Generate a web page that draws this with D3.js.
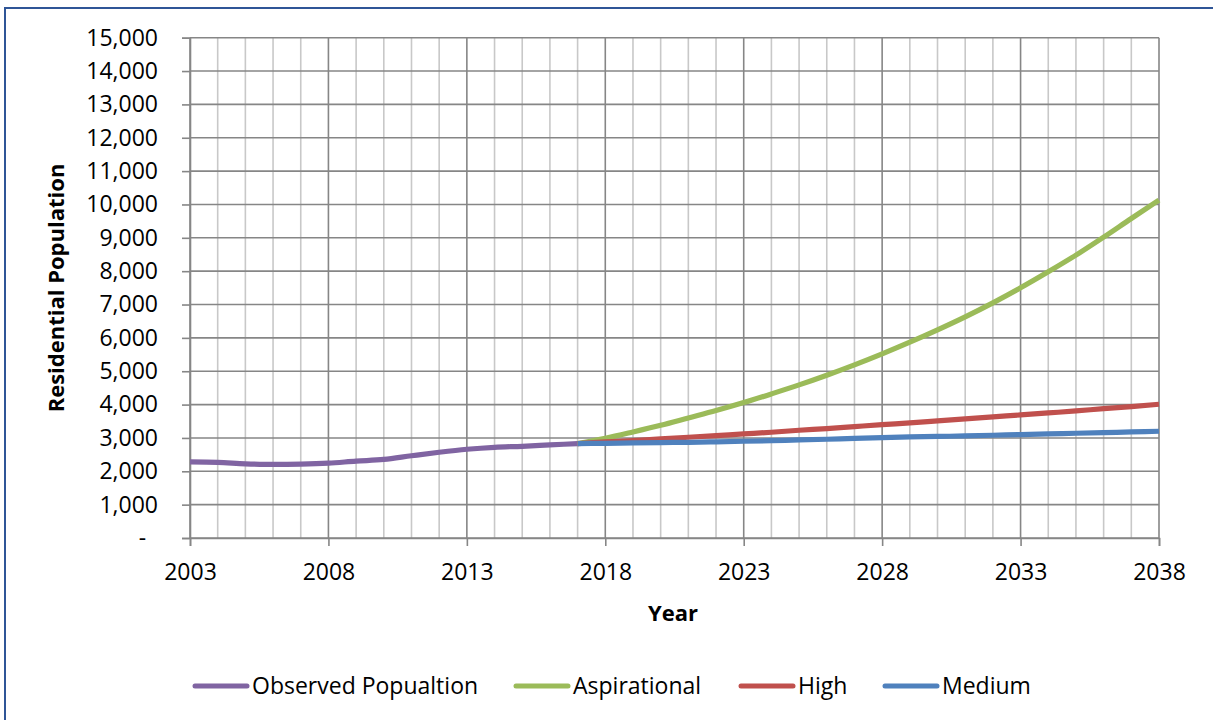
<!DOCTYPE html>
<html><head><meta charset="utf-8">
<script src="https://d3js.org/d3.v7.min.js"></script>
<style>body{margin:0;background:#fff;} svg{display:block;}</style>
</head><body>
<script>
// ---- data ----
const observedYears = [2003,2004,2005,2006,2007,2008,2009,2010,2011,2012,2013,2014,2015,2016,2017];
const observedValues = [2280,2265,2225,2205,2215,2245,2305,2355,2465,2570,2660,2720,2750,2790,2830];
const projYears = [2017,2018,2019,2020,2021,2022,2023,2024,2025,2026,2027,2028,2029,2030,2031,2032,2033,2034,2035,2036,2037,2038];
const aspirationalValues = [2830,2990,3180,3380,3600,3820,4060,4320,4590,4880,5190,5520,5870,6240,6630,7050,7500,7980,8480,9020,9580,10130];
const highValues = [2830,2880,2920,2970,3020,3070,3120,3170,3230,3280,3340,3400,3450,3510,3570,3630,3690,3750,3810,3880,3940,4010];
const mediumValues = [2830,2840,2850,2860,2870,2885,2900,2920,2940,2960,2985,3010,3030,3045,3060,3080,3100,3120,3140,3160,3180,3200];
const xTickLabels = [2003,2008,2013,2018,2023,2028,2033,2038];
const yTickValues = [0,1000,2000,3000,4000,5000,6000,7000,8000,9000,10000,11000,12000,13000,14000,15000];
const seriesNames = ["Observed Popualtion","Aspirational","High","Medium"];
const seriesColors = ["#8064A2","#9BBB59","#C0504D","#4F81BD"];

const W = 1213, H = 720;
const pLeft = 190, pRight = 1159, pTop = 37.7, pBottom = 538;
const FONT = "'Open Sans', Lato, sans-serif";

const svg = d3.select("body").append("svg").attr("width", W).attr("height", H);
svg.append("rect").attr("width", W).attr("height", H).attr("fill", "#fff");
// outer frame
svg.append("rect").attr("x", 5).attr("y", 8).attr("width", W + 20).attr("height", H + 20)
  .attr("fill", "none").attr("stroke", "#2F5597").attr("stroke-width", 2);

const x = d3.scaleLinear().domain([2003, 2038]).range([pLeft, pRight]);
const y = d3.scaleLinear().domain([0, 15000]).range([pBottom, pTop]);

const g = svg.append("g");
// minor vertical gridlines (every year)
const allYears = d3.range(2003, 2039);
g.selectAll(".vminor").data(allYears.filter(v => (v - 2003) % 5 !== 0)).join("line")
  .attr("x1", d => x(d)).attr("x2", d => x(d)).attr("y1", pTop).attr("y2", pBottom)
  .attr("stroke", "#C8C8C8").attr("stroke-width", 1.6);
// horizontal gridlines
g.selectAll(".h").data(yTickValues).join("line")
  .attr("x1", pLeft).attr("x2", pRight).attr("y1", d => y(d)).attr("y2", d => y(d))
  .attr("stroke", "#868686").attr("stroke-width", 1.6);
// major vertical gridlines
g.selectAll(".vmajor").data(xTickLabels).join("line")
  .attr("x1", d => x(d)).attr("x2", d => x(d)).attr("y1", pTop).attr("y2", pBottom)
  .attr("stroke", "#868686").attr("stroke-width", 1.6);

// y axis
const yAxis = d3.axisLeft(y).tickValues(yTickValues).tickSize(8).tickPadding(24)
  .tickFormat(d => d === 0 ? "-  " : d3.format(",")(d));
const ya = svg.append("g").attr("transform", `translate(${pLeft},0)`).call(yAxis);
ya.select(".domain").attr("stroke", "#868686").attr("stroke-width", 1.6);
ya.selectAll(".tick line").attr("stroke", "#868686").attr("stroke-width", 1.6);
ya.selectAll("text").attr("font-family", FONT).attr("font-size", 23).attr("fill", "#000")
  .style("white-space", "pre");

// x axis
const xAxis = d3.axisBottom(x).tickValues(xTickLabels).tickSize(8).tickPadding(18).tickFormat(d3.format("d"));
const xa = svg.append("g").attr("transform", `translate(0,${pBottom})`).call(xAxis);
xa.select(".domain").attr("stroke", "#868686").attr("stroke-width", 1.6);
xa.selectAll(".tick line").attr("stroke", "#868686").attr("stroke-width", 1.6);
xa.selectAll("text").attr("font-family", FONT).attr("font-size", 23).attr("fill", "#000");

// axis titles
svg.append("text").attr("x", 673).attr("y", 621).attr("text-anchor", "middle")
  .attr("font-family", FONT).attr("font-weight", "bold").attr("font-size", 22).text("Year");
svg.append("text").attr("transform", "translate(64,288) rotate(-90)").attr("text-anchor", "middle")
  .attr("font-family", FONT).attr("font-weight", "bold").attr("font-size", 22).text("Residential Population");

// lines
const line = d3.line().x(d => x(d[0])).y(d => y(d[1])).curve(d3.curveMonotoneX);
const series = [
  {name: seriesNames[0], color: seriesColors[0], pts: d3.zip(observedYears, observedValues)},
  {name: seriesNames[1], color: seriesColors[1], pts: d3.zip(projYears, aspirationalValues)},
  {name: seriesNames[2], color: seriesColors[2], pts: d3.zip(projYears, highValues)},
  {name: seriesNames[3], color: seriesColors[3], pts: d3.zip(projYears, mediumValues)}
];
svg.append("g").selectAll("path").data(series).join("path")
  .attr("d", d => line(d.pts)).attr("fill", "none").attr("stroke", d => d.color)
  .attr("stroke-width", 5.2).attr("stroke-linejoin", "round").attr("stroke-linecap", "butt");

// legend
const legendX = [195, 516, 741, 885];
const lg = svg.append("g").selectAll("g").data(series).join("g")
  .attr("transform", (d, i) => `translate(${legendX[i]},686)`);
lg.append("line").attr("x1", 0).attr("x2", 52).attr("y1", 0).attr("y2", 0)
  .attr("stroke", d => d.color).attr("stroke-width", 5).attr("stroke-linecap", "round");
lg.append("text").attr("x", 57).attr("y", 0).attr("dy", "0.35em")
  .attr("font-family", FONT).attr("font-size", 23).attr("fill", "#000").text(d => d.name);
</script>
</body></html>
